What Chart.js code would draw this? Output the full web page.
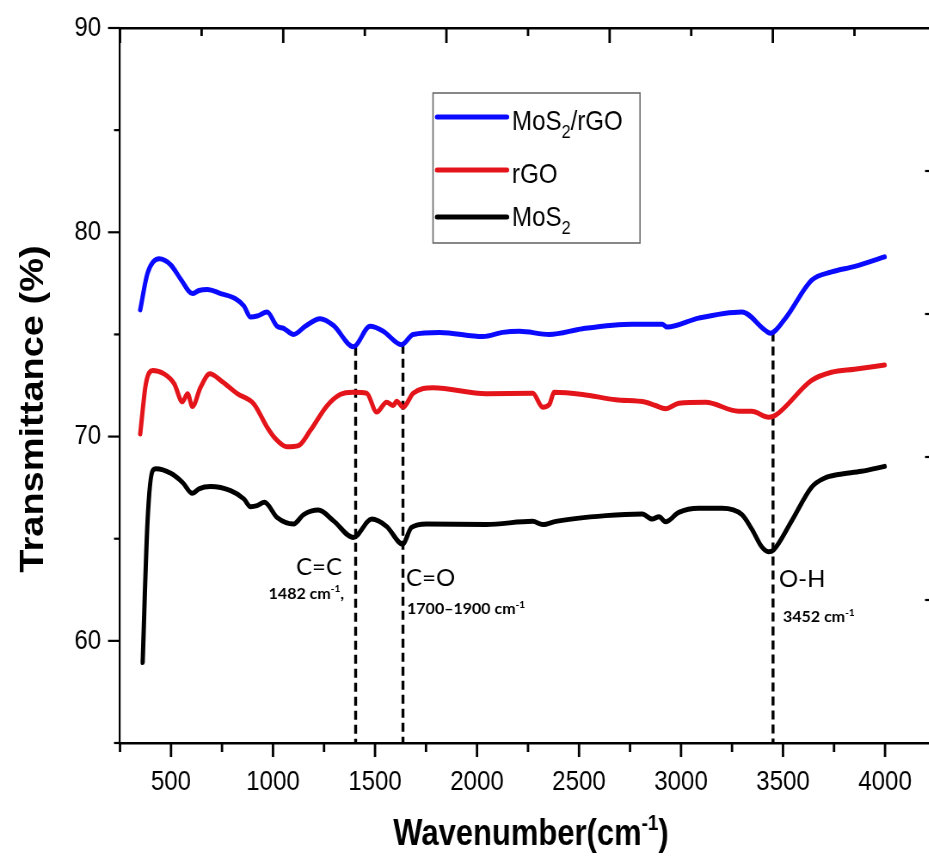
<!DOCTYPE html>
<html lang="en">
<head>
<meta charset="UTF-8">
<title>FTIR - MoS2, rGO, MoS2/rGO</title>
<script src="https://cdn.jsdelivr.net/npm/chart.js"></script>
<style>
    html, body { margin: 0; padding: 0; background: #fff; overflow: hidden; }
    #chart { display: block; }
</style>
</head>
<body>
<canvas id="chart" width="1093" height="859" style="width:940px;height:859px"></canvas>
<script>
// wavenumber (cm-1) and transmittance (%)
const seriesNames = ['MoS₂/rGO', 'rGO', 'MoS₂'];

const compX = [349, 385, 442, 499, 548, 605, 637, 678, 743, 816, 857, 890, 922, 971, 1020, 1052, 1101, 1158, 1231, 1296,
    1394, 1476, 1540, 1630, 1687, 1817, 2029, 2126, 2208, 2354, 2517, 2761, 2908, 2932, 3087, 3298, 3413, 3437, 3510,
    3640, 3738, 3852, 3998];
const compY = [76.2, 78.0, 78.7, 78.4, 77.7, 77.0, 77.15, 77.2, 77.0, 76.75, 76.4, 75.85, 75.9, 76.1, 75.4, 75.3, 75.0, 75.4, 75.77, 75.44,
    74.4, 75.4, 75.16, 74.5, 75.0, 75.1, 74.9, 75.1, 75.15, 75.0, 75.28, 75.5, 75.5, 75.36, 75.8, 76.1, 75.2, 75.06, 75.77,
    77.65, 78.06, 78.33, 78.8];

const rgoX = [349, 377, 410, 466, 515, 556, 581, 605, 645, 691, 743, 825, 906, 971, 1012, 1069, 1125, 1183, 1264, 1329,
    1394, 1459, 1508, 1557, 1589, 1606, 1638, 1687, 1785, 2045, 2273, 2322, 2354, 2379, 2517, 2680, 2827, 2875, 2924,
    2989, 3120, 3282, 3347, 3429, 3461, 3640, 3738, 3850, 3998];
const rgoY = [70.13, 72.6, 73.24, 73.07, 72.6, 71.7, 72.1, 71.47, 72.42, 73.07, 72.75, 72.1, 71.6, 70.46, 69.9, 69.5, 69.56, 70.3, 71.5, 72.06,
    72.17, 72.12, 71.2, 71.68, 71.52, 71.73, 71.44, 72.12, 72.39, 72.1, 72.12, 71.44, 71.57, 72.17, 72.06, 71.8, 71.68, 71.52, 71.36,
    71.63, 71.68, 71.24, 71.24, 70.95, 71.03, 72.75, 73.15, 73.3, 73.5];

const mosX = [361, 385, 410, 426, 499, 556, 605, 637, 694, 792, 857, 890, 922, 958, 1020, 1101, 1150, 1223, 1296, 1394,
    1484, 1557, 1635, 1679, 1752, 2045, 2273, 2322, 2387, 2631, 2810, 2859, 2892, 2924, 2989, 3087, 3201, 3298,
    3347, 3396, 3429, 3453, 3543, 3640, 3705, 3770, 3884, 3998];
const mosY = [58.94, 65.88, 68.33, 68.42, 68.2, 67.76, 67.22, 67.44, 67.55, 67.35, 66.95, 66.57, 66.62, 66.78, 66.04, 65.72, 66.18, 66.4, 65.88, 65.06,
    65.96, 65.6, 64.74, 65.55, 65.72, 65.7, 65.85, 65.69, 65.85, 66.13, 66.21, 65.96, 66.08, 65.83, 66.29, 66.49, 66.49, 66.18,
    65.47, 64.6, 64.36, 64.44, 65.88, 67.52, 67.97, 68.14, 68.3, 68.54];

// dashed band markers: position and the curve value where each starts
const markX = [1405, 1637, 3451];
const markTop = [74.4, 74.5, 75.1];

// band notes: group name, then wavenumber note
const noteText = ['C=C', '1482 cm⁻¹,', 'C=O', '1700–1900 cm⁻¹', 'O-H', '3452 cm⁻¹'];

// axis ranges and the odd tick marks of the right-hand axis
const xRange = [250, 4250];
const yRange = [55, 90];
const rightTicks = [62, 69, 76, 83];

// ---------------------------------------------------------------
const K = 0.86; // the source figure is squeezed sideways
const FONT = '"Liberation Sans", Arial, sans-serif';
const NOTE_FONT = 'Lato, "Open Sans", sans-serif';

const toPairs = (xs, ys) => xs.map((x, i) => ({ x: x, y: ys[i] }));

const SUB = { '₂': '2' };
const SUP = { '⁻': '-', '¹': '1' };
function parseRich(str) {
    const parts = [];
    for (const ch of str) {
        const kind = SUB[ch] ? 'sub' : SUP[ch] ? 'sup' : 'n';
        const c = SUB[ch] || SUP[ch] || ch;
        const last = parts[parts.length - 1];
        if (last && last.kind === kind) last.t += c; else parts.push({ kind: kind, t: c });
    }
    return parts;
}

// draws text with sub/superscripts; natural = undo the sideways squeeze
function drawRich(ctx, str, x, y, o) {
    const parts = parseRich(str);
    ctx.save();
    ctx.translate(x, y);
    if (o.rotate) ctx.rotate(o.rotate);
    if (o.natural) ctx.scale(1 / K, 1);
    const fontOf = p => `${o.weight || 'normal'} ${p.kind === 'n' ? o.size : Math.round(o.size * (p.kind === 'sub' ? 0.68 : 0.6))}px ${o.family}`;
    let w = 0;
    parts.forEach(p => { ctx.font = fontOf(p); w += ctx.measureText(p.t).width; });
    let cx = o.align === 'right' ? -w : o.align === 'center' ? -w / 2 : 0;
    ctx.fillStyle = o.color || '#000';
    ctx.textAlign = 'left';
    ctx.textBaseline = 'alphabetic';
    parts.forEach(p => {
        ctx.font = fontOf(p);
        const dy = p.kind === 'sup' ? -o.size * 0.42 : p.kind === 'sub' ? o.size * 0.3 : 0;
        ctx.fillText(p.t, cx, dy);
        cx += ctx.measureText(p.t).width;
    });
    ctx.restore();
}

function stroke(ctx, x1, y1, x2, y2) {
    ctx.beginPath();
    ctx.moveTo(x1, y1);
    ctx.lineTo(x2, y2);
    ctx.stroke();
}

const curve = (label, xs, ys, color) => ({
    label: label,
    data: toPairs(xs, ys),
    borderColor: color,
    backgroundColor: color,
    borderWidth: 5,
    pointRadius: 0,
    cubicInterpolationMode: 'monotone',
    borderCapStyle: 'round',
    borderJoinStyle: 'round',
    fill: false,
    order: 1
});

const marks = markX.map((x, i) => ({
    label: 'mark' + i,
    data: [{ x: x, y: markTop[i] }, { x: x, y: yRange[0] }],
    borderColor: '#000',
    borderWidth: 3.4,
    borderDash: [9, 5],
    pointRadius: 0,
    fill: false,
    order: 5
}));

// inward / outward tick marks, major ones longer
const ticksPlugin = {
    id: 'axisTicks',
    afterDraw(chart) {
        const ctx = chart.ctx;
        const s = chart.scales;
        ctx.save();
        ctx.strokeStyle = '#000';
        ctx.lineWidth = 2.8;
        s.x.ticks.forEach(t => {
            const p = s.x.getPixelForValue(t.value);
            stroke(ctx, p, s.x.top, p, s.x.top + (t.value % 500 === 0 ? 14 : 9));
        });
        s.x2.ticks.forEach(t => {
            const p = s.x2.getPixelForValue(t.value);
            stroke(ctx, p, s.x2.bottom, p, s.x2.bottom + ((t.value - xRange[0]) % 800 === 0 ? 15 : 8));
        });
        ctx.lineWidth = 2.2;
        s.y.ticks.forEach(t => {
            const p = s.y.getPixelForValue(t.value);
            stroke(ctx, s.y.right - (t.value % 10 === 0 ? 12 : 6) / K, p, s.y.right, p);
        });
        s.y2.ticks.forEach(t => {
            const p = s.y2.getPixelForValue(t.value);
            stroke(ctx, s.y2.left - 11 / K, p, s.y2.left, p);
        });
        ctx.restore();
    }
};

// axis titles, band notes and the boxed legend
const textPlugin = {
    id: 'texts',
    afterDraw(chart) {
        const ctx = chart.ctx;
        const ca = chart.chartArea;
        const x = chart.scales.x, y = chart.scales.y;

        drawRich(ctx, 'Wavenumber(cm⁻¹)', (ca.left + ca.right) / 2 + 3 / K, 845,
            { size: 36, weight: 'bold', family: FONT, align: 'center' });
        drawRich(ctx, 'Transmittance (%)', 43 / K, 409,
            { size: 38, weight: 'bold', family: FONT, align: 'center', rotate: -Math.PI / 2 });

        const notePos = [
            [1338, 63.2, 'right', 24, 'normal'], [1348, 62.05, 'right', 16, 'bold'],
            [1652, 62.7, 'left', 24, 'normal'], [1657, 61.3, 'left', 16, 'bold'],
            [3480, 62.65, 'left', 24, 'normal'], [3500, 60.9, 'left', 16, 'bold']
        ];
        noteText.forEach((t, i) => {
            const n = notePos[i];
            drawRich(ctx, t, x.getPixelForValue(n[0]), y.getPixelForValue(n[1]),
                { size: n[3], weight: n[4], family: NOTE_FONT, align: n[2], natural: true });
        });

        // legend box (display px from the left of the canvas)
        const bx = 433 / K, by = 93, bw = 207 / K, bh = 150;
        ctx.save();
        ctx.strokeStyle = '#6b6b6b';
        ctx.lineWidth = 1.6;
        ctx.strokeRect(bx, by, bw, bh);
        ctx.lineCap = 'round';
        const rows = [117, 170, 217];
        const base = [130, 183, 226];
        seriesNames.forEach((name, i) => {
            ctx.strokeStyle = chart.data.datasets[i].borderColor;
            ctx.lineWidth = 5;
            stroke(ctx, 437 / K, rows[i], 507 / K, rows[i]);
            drawRich(ctx, name, 512 / K, base[i], { size: 28, family: FONT, align: 'left' });
        });
        ctx.restore();
    }
};

const fixed = v => sc => { if (sc.isHorizontal()) sc.height = v; else sc.width = v; };
const tickFont = { family: FONT, size: 28 };
// label gap is made with an invisible tick so it does not pad the plot area
const gapGrid = { drawOnChartArea: false, drawTicks: true, tickLength: 22, tickColor: 'rgba(0,0,0,0)' };

new Chart(document.getElementById('chart'), {
    type: 'line',
    data: {
        datasets: [
            curve(seriesNames[0], compX, compY, '#0a0aff'),
            curve(seriesNames[1], rgoX, rgoY, '#e4141b'),
            curve(seriesNames[2], mosX, mosY, '#000000')
        ].concat(marks)
    },
    options: {
        responsive: false,
        animation: false,
        layout: { padding: 0 },
        plugins: { legend: { display: false }, tooltip: { enabled: false } },
        scales: {
            x: {
                type: 'linear', position: 'bottom', min: xRange[0], max: xRange[1],
                ticks: {
                    stepSize: 250, autoSkip: false, maxRotation: 0, padding: 0, color: '#000', font: tickFont,
                    callback: v => (v % 500 === 0 && v <= 4000 ? v : '')
                },
                grid: gapGrid,
                border: { color: '#000', width: 2.5 },
                afterFit: fixed(116)
            },
            x2: {
                type: 'linear', position: 'top', min: xRange[0], max: xRange[1],
                ticks: { stepSize: 400, display: false, padding: 0 },
                grid: { drawOnChartArea: false, drawTicks: false },
                border: { color: '#000', width: 2.5 },
                afterFit: fixed(28)
            },
            y: {
                type: 'linear', position: 'left', min: yRange[0], max: yRange[1],
                ticks: {
                    stepSize: 5, autoSkip: false, padding: 0, color: '#000', font: tickFont,
                    callback: v => (v % 10 === 0 ? v : '')
                },
                grid: gapGrid,
                border: { color: '#000', width: 2.2 },
                afterFit: fixed(120 / K)
            },
            y2: {
                type: 'linear', position: 'right', min: yRange[0], max: yRange[1],
                ticks: { display: false, padding: 0 },
                afterBuildTicks: sc => { sc.ticks = rightTicks.map(v => ({ value: v })); },
                grid: { drawOnChartArea: false, drawTicks: false },
                border: { color: '#000', width: 2.2 },
                afterFit: fixed(1093 - 936 / K)
            }
        }
    },
    plugins: [ticksPlugin, textPlugin]
});
</script>
</body>
</html>
